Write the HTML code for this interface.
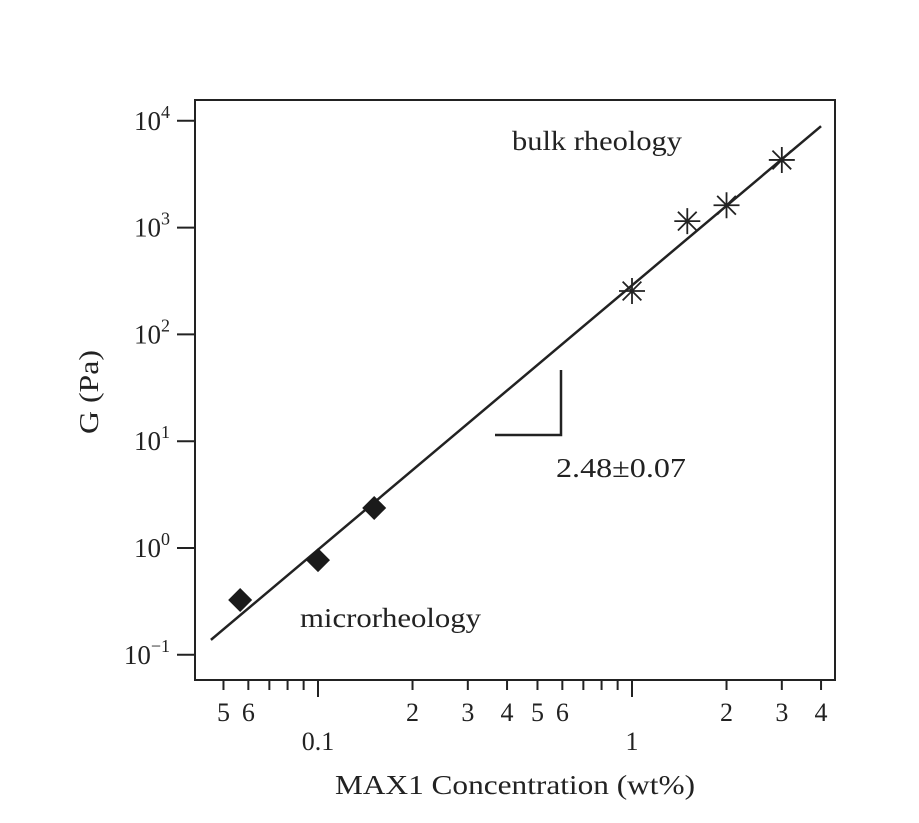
<!DOCTYPE html>
<html><head><meta charset="utf-8"><style>
body{margin:0;background:#fff}
svg text{font-family:"Liberation Serif",serif;fill:#222}
</style></head><body>
<svg id="chart" width="919" height="818" xmlns="http://www.w3.org/2000/svg">
<rect x="195" y="100" width="640" height="580" fill="none" stroke="#222" stroke-width="2"/>
<g id="axes"></g>
<g id="marks"></g>
<text transform="translate(98,392) rotate(-90)" text-anchor="middle" font-size="27" textLength="84" lengthAdjust="spacingAndGlyphs">G (Pa)</text>
<text x="335" y="794" font-size="27" textLength="360" lengthAdjust="spacingAndGlyphs">MAX1 Concentration (wt%)</text>
<text x="512" y="150" font-size="27" textLength="170" lengthAdjust="spacingAndGlyphs">bulk rheology</text>
<text x="300" y="627" font-size="27" textLength="181" lengthAdjust="spacingAndGlyphs">microrheology</text>
<path d="M495,435 H561 V370" fill="none" stroke="#222" stroke-width="2.5"/>
<text x="556" y="477" font-size="27" textLength="130" lengthAdjust="spacingAndGlyphs">2.48±0.07</text>
</svg>
<script>
const microX=[0.0565,0.1,0.151];
const microY=[0.326,0.77,2.37];
const bulkX=[1,1.5,2,3];
const bulkY=[255,1150,1620,4300];
const fitX=[0.0456,4];
const fitY=[0.138,8900];
const yTicks=[-1,0,1,2,3,4];
const xMinorTicks=[0.05,0.06,0.07,0.08,0.09,0.2,0.3,0.4,0.5,0.6,0.7,0.8,0.9,2,3,4];
const xMinorLabels=["5","6","","","","2","3","4","5","6","","","","2","3","4"];
const xMajorTicks=[0.1,1];
const xMajorLabels=["0.1","1"];
const NS="http://www.w3.org/2000/svg";
const sx=v=>632+314*Math.log10(v);
const sy=v=>548-106.8*Math.log10(v);
function mk(t,a,p){const e=document.createElementNS(NS,t);for(const k in a)e.setAttribute(k,a[k]);(p||document.getElementById('marks')).appendChild(e);return e;}
const ax=document.getElementById('axes');
yTicks.forEach(p=>{const y=548-106.8*p;
 const l=mk('line',{x1:177,x2:195,y1:y,y2:y,stroke:'#222','stroke-width':2},ax);
 
 
 const t=mk('text',{x:170,y:y+9,'text-anchor':'end','font-size':27},ax);
 
 
 t.textContent='10';
 const s=mk('tspan',{dy:-12,'font-size':18},t);s.textContent=p<0?'\u2212'+(-p):String(p);
});
xMinorTicks.forEach((v,i)=>{const x=sx(v);
 const l=mk('line',{x1:x,x2:x,y1:680,y2:690,stroke:'#222','stroke-width':2},ax);
 
 
 if(xMinorLabels[i]){const t=mk('text',{x:x,y:721,'text-anchor':'middle','font-size':26},ax);
 
 
 t.textContent=xMinorLabels[i];}
});
xMajorTicks.forEach((v,i)=>{const x=sx(v);
 const l=mk('line',{x1:x,x2:x,y1:680,y2:697,stroke:'#222','stroke-width':2},ax);
 
 
 const t=mk('text',{x:x,y:750,'text-anchor':'middle','font-size':26},ax);
 
 
 t.textContent=xMajorLabels[i];
});
const fl=mk('line',{x1:sx(fitX[0]),y1:sy(fitY[0]),x2:sx(fitX[1]),y2:sy(fitY[1]),stroke:'#222','stroke-width':2.5});


microX.forEach((v,i)=>{const x=sx(v),y=sy(microY[i]),r=12;
 const d=mk('polygon',{points:`${x},${y-r} ${x+r},${y} ${x},${y+r} ${x-r},${y}`,fill:'#1a1a1a'});
 
 
});
bulkX.forEach((v,i)=>{const x=sx(v),y=sy(bulkY[i]),r=13,q=r*0.72;
 const g=mk('path',{d:`M${x-r},${y}H${x+r}M${x},${y-r}V${y+r}M${x-q},${y-q}L${x+q},${y+q}M${x-q},${y+q}L${x+q},${y-q}`,stroke:'#222','stroke-width':1.8,fill:'none'});
 
 
});
</script>
</body></html>
